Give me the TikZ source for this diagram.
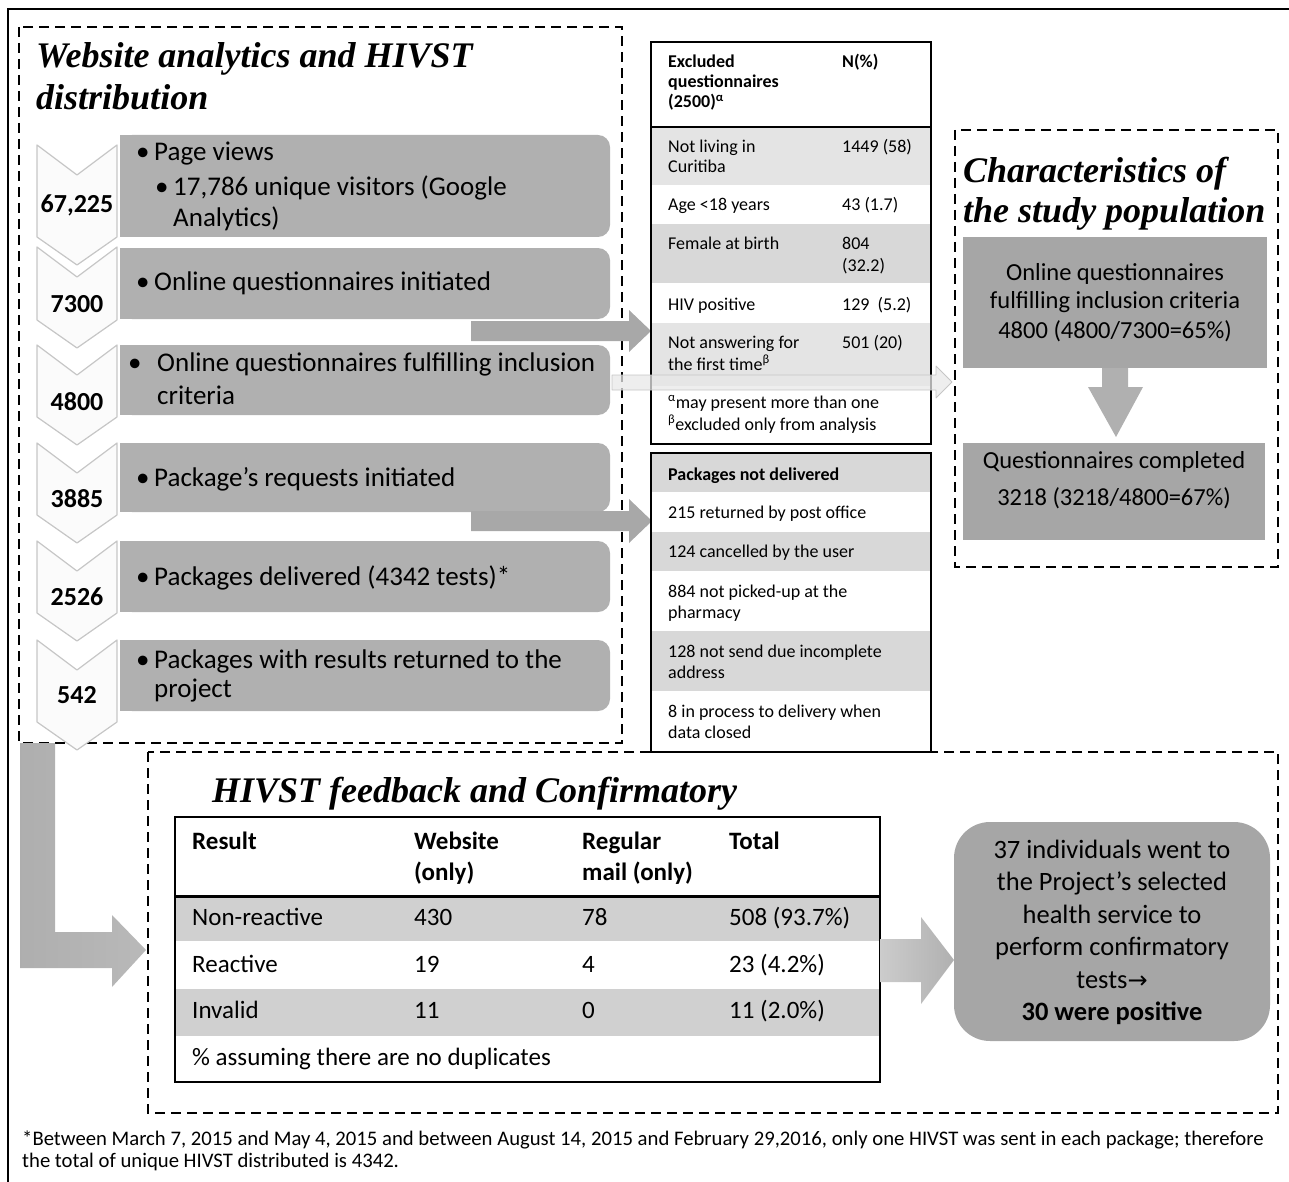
\documentclass[tikz,border=0pt]{standalone}
\usepackage{fontspec}
\setmainfont{Carlito}
\newfontfamily\ttlfont{Liberation Serif}
\newfontfamily\symfont{DejaVu Sans}
\definecolor{boxgray}{HTML}{B0B0B0}
\definecolor{darkbox}{HTML}{A6A6A6}
\definecolor{rowA}{HTML}{E4E4E4}
\definecolor{rowB}{HTML}{D8D8D8}
\definecolor{rowC}{HTML}{D0D0D0}
\definecolor{arrowgray}{HTML}{A8A8A8}
\begin{document}
\begin{tikzpicture}[x=1pt,y=-1pt,
  dashbox/.style={draw=black,line width=1.6pt,dash pattern=on 10pt off 6pt},
  chevst/.style={fill=gray!3,draw=gray!45,line width=1.2pt,line join=round},
  btxt/.style={font=\fontsize{27}{32}\selectfont,anchor=base west,inner sep=0pt},
  num/.style={font=\fontsize{26}{30}\selectfont\bfseries,anchor=base,inner sep=0pt},
  ttl/.style={font=\ttlfont\fontsize{36}{43}\selectfont\bfseries\itshape,anchor=base west,inner sep=0pt},
  ttxt/.style={font=\fontsize{18}{21}\selectfont,anchor=base west,inner sep=0pt},
  btbl/.style={font=\fontsize{25}{30}\selectfont,anchor=base west,inner sep=0pt},
  rtxt/.style={font=\fontsize{26.5}{32}\selectfont,anchor=base,inner sep=0pt},
  ctxt/.style={font=\fontsize{24.5}{30}\selectfont,anchor=base,inner sep=0pt},
  ftxt/.style={font=\fontsize{20.7}{23}\selectfont,anchor=base west,inner sep=0pt},
  tblline/.style={draw=black,line width=1.6pt}
]
\useasboundingbox (0,0) rectangle (1289,1182);
% outer frame
\draw[line width=2.5pt] (8,1182) -- (8,9) -- (1289,9);

% ---------- left section ----------
\draw[dashbox] (19,27) rectangle (622,743);
\node[ttl] (t1a) at (36,68) {Website analytics and HIVST};
\node[ttl] (t1b) at (36,110) {distribution};

% grey boxes
\foreach \T/\B in {135/237,248/319,345/415,443/512,541/612,640/711}{
  \fill[boxgray,rounded corners=12pt] (120,\T) rectangle (610,\B);
  \fill[boxgray] (120,\T) rectangle (150,\B);
}
% chevrons
\foreach \T/\B in {640/722,541/613,443/515,345/417,247/320,145/237}{
  \filldraw[chevst] (37,\T) -- (77,{\T+30}) -- (117,\T) -- (117,\B) -- (77,{\B+28}) -- (37,\B) -- cycle;
}
\node[num] (n1) at (77,213) {67,225};
\node[num] (n2) at (77,312) {7300};
\node[num] (n3) at (77,410) {4800};
\node[num] (n4) at (77,507) {3885};
\node[num] (n5) at (77,605) {2526};
\node[num] (n6) at (77,703) {542};

\node[btxt] (b1) at (136,161) {•};
\node[btxt] (r1a) at (154,161) {Page views};
\node[btxt] (b1s) at (155,196) {•};
\node[btxt] (r1b) at (173,196) {17,786 unique visitors (Google};
\node[btxt] (r1c) at (173,226) {Analytics)};
\node[btxt] (b2) at (136,290) {•};
\node[btxt] (r2) at (154,290) {Online questionnaires initiated};
\node[btxt] (b3) at (128,371) {•};
\node[btxt] (r3a) at (157,371) {Online questionnaires fulfilling inclusion};
\node[btxt] (r3b) at (157,404) {criteria};
\node[btxt] (b4) at (136,486) {•};
\node[btxt] (r4) at (154,486) {Package’s requests initiated};
\node[btxt] (b5) at (136,585) {•};
\node[btxt] (r5) at (154,585) {Packages delivered (4342 tests)*};
\node[btxt] (b6) at (136,668) {•};
\node[btxt] (r6a) at (154,668) {Packages with results returned to the};
\node[btxt] (r6b) at (154,697) {project};

% arrows to tables
\fill[arrowgray] (471,321) -- (629,321) -- (629,310) -- (651,331) -- (629,352) -- (629,341) -- (471,341) -- cycle;
\fill[arrowgray] (471,511) -- (629,511) -- (629,499) -- (652,521) -- (629,543) -- (629,531) -- (471,531) -- cycle;

% ---------- excluded table ----------
\fill[rowA] (651,127) rectangle (931,185);
\fill[rowB] (651,224) rectangle (931,283);
\fill[rowA] (651,323) rectangle (931,386);
\draw[tblline] (651,42) rectangle (931,444);
\draw[line width=2.2pt] (651,127) -- (931,127);
\node[ttxt,font=\fontsize{18}{21}\selectfont\bfseries] (e0a) at (668,68) {Excluded};
\node[ttxt,font=\fontsize{18}{21}\selectfont\bfseries] (e0b) at (668,88) {questionnaires};
\node[ttxt,font=\fontsize{18}{21}\selectfont\bfseries] (e0c) at (668,108) {(2500)\textsuperscript{α}};
\node[ttxt,font=\fontsize{18}{21}\selectfont\bfseries] (e0n) at (842,68) {N(\%)};
\node[ttxt] (e1a) at (668,153) {Not living in};
\node[ttxt] (e1b) at (668,173) {Curitiba};
\node[ttxt] (e1n) at (842,153) {1449 (58)};
\node[ttxt] (e2) at (668,211) {Age <18 years};
\node[ttxt] (e2n) at (842,211) {43 (1.7)};
\node[ttxt] (e3) at (668,250) {Female at birth};
\node[ttxt] (e3n) at (842,250) {804};
\node[ttxt] (e3m) at (842,271) {(32.2)};
\node[ttxt] (e4) at (668,310) {HIV positive};
\node[ttxt] (e4n) at (842,310) {129\ \ (5.2)};
\node[ttxt] (e5a) at (668,348) {Not answering for};
\node[ttxt] (e5b) at (668,370) {the first time\textsuperscript{β}};
\node[ttxt] (e5n) at (842,348) {501 (20)};
\node[ttxt] (e6a) at (668,408) {\textsuperscript{α}may present more than one};
\node[ttxt] (e6b) at (668,430) {\textsuperscript{β}excluded only from analysis};

% ---------- packages table ----------
\fill[rowB] (651,453) rectangle (931,492);
\fill[rowB] (651,532) rectangle (931,571);
\fill[rowB] (651,631) rectangle (931,691);
\draw[tblline] (651,453) rectangle (931,752);
\node[ttxt,font=\fontsize{18}{21}\selectfont\bfseries] (p0) at (668,480) {Packages not delivered};
\node[ttxt] (p1) at (668,518) {215 returned by post office};
\node[ttxt] (p2) at (668,557) {124 cancelled by the user};
\node[ttxt] (p3a) at (668,597) {884 not picked-up at the};
\node[ttxt] (p3b) at (668,618) {pharmacy};
\node[ttxt] (p4a) at (668,657) {128 not send due incomplete};
\node[ttxt] (p4b) at (668,678) {address};
\node[ttxt] (p5a) at (668,717) {8 in process to delivery when};
\node[ttxt] (p5b) at (668,738) {data closed};

% light long arrow
\filldraw[fill=gray!18,draw=gray!45,line width=0.8pt,fill opacity=0.75,line join=round]
  (612,375) -- (936,375) -- (936,366) -- (952,382) -- (936,398) -- (936,390) -- (612,390) -- cycle;

% ---------- characteristics ----------
\draw[dashbox] (955,130) rectangle (1278,567);
\node[ttl] (t2a) at (963,183) {Characteristics of};
\node[ttl] (t2b) at (963,223) {the study population};
\fill[darkbox] (963,237) rectangle (1267,368);
\node[ctxt] (c1a) at (1115,280) {Online questionnaires};
\node[ctxt] (c1b) at (1115,308) {fulfilling inclusion criteria};
\node[ctxt] (c1c) at (1115,338) {4800 (4800/7300=65\%)};
\fill[gray!62] (1102,368) -- (1128,368) -- (1128,387) -- (1143,387) -- (1116,437) -- (1088,387) -- (1102,387) -- cycle;
\fill[darkbox] (963,443) rectangle (1265,540);
\node[ctxt] (c2a) at (1114,468) {Questionnaires completed};
\node[ctxt] (c2b) at (1114,505) {3218 (3218/4800=67\%)};

% ---------- bottom section ----------
\shade[left color=gray!85!black!55,right color=gray!55]
  (20,743) -- (55,743) -- (55,932) -- (112,932) -- (112,915) -- (146,950) -- (112,987) -- (112,968) -- (20,968) -- cycle;
\draw[dashbox] (148,752) rectangle (1278,1113);
\node[ttl] (t3) at (212,802) {HIVST feedback and Confirmatory};

\fill[rowC] (175,896) rectangle (880,941);
\fill[rowC] (175,989) rectangle (880,1036);
\draw[line width=2pt] (175,817) rectangle (880,1082);
\draw[line width=3pt] (175,896) -- (880,896);
\node[btbl,font=\fontsize{25}{30}\selectfont\bfseries] (h1) at (192,849) {Result};
\node[btbl,font=\fontsize{25}{30}\selectfont\bfseries] (h2a) at (414,849) {Website};
\node[btbl,font=\fontsize{25}{30}\selectfont\bfseries] (h2b) at (414,880) {(only)};
\node[btbl,font=\fontsize{25}{30}\selectfont\bfseries] (h3a) at (582,849) {Regular};
\node[btbl,font=\fontsize{25}{30}\selectfont\bfseries] (h3b) at (582,880) {mail (only)};
\node[btbl,font=\fontsize{25}{30}\selectfont\bfseries] (h4) at (729,849) {Total};
\node[btbl] (a1) at (192,925) {Non-reactive};
\node[btbl] (a2) at (414,925) {430};
\node[btbl] (a3) at (582,925) {78};
\node[btbl] (a4) at (729,925) {508 (93.7\%)};
\node[btbl] (b1r) at (192,972) {Reactive};
\node[btbl] (b2r) at (414,972) {19};
\node[btbl] (b3r) at (582,972) {4};
\node[btbl] (b4r) at (729,972) {23 (4.2\%)};
\node[btbl] (c1r) at (192,1018) {Invalid};
\node[btbl] (c2r) at (414,1018) {11};
\node[btbl] (c3r) at (582,1018) {0};
\node[btbl] (c4r) at (729,1018) {11 (2.0\%)};
\node[btbl] (d1r) at (192,1065) {\% assuming there are no duplicates};

\shade[left color=gray!40,right color=gray!62]
  (880,939) -- (921,939) -- (921,917) -- (954,960) -- (921,1004) -- (921,982) -- (880,982) -- cycle;
\fill[darkbox,rounded corners=36pt] (954,822) rectangle (1270,1041);
\node[rtxt] (q1) at (1112,858) {37 individuals went to};
\node[rtxt] (q2) at (1112,890) {the Project’s selected};
\node[rtxt] (q3) at (1112,923) {health service to};
\node[rtxt] (q4) at (1112,955) {perform confirmatory};
\node[rtxt] (q5) at (1112,988) {tests{\symfont\fontsize{24}{30}\selectfont →}};
\node[rtxt,font=\fontsize{26.5}{32}\selectfont\bfseries] (q6) at (1112,1020) {30 were positive};

% footnote
\node[ftxt] (f1) at (22,1145) {*Between March 7, 2015 and May 4, 2015 and between August 14, 2015 and February 29,2016, only one HIVST was sent in each package; therefore};
\node[ftxt] (f2) at (22,1167) {the total of unique HIVST distributed is 4342.};
\end{tikzpicture}
\end{document}
